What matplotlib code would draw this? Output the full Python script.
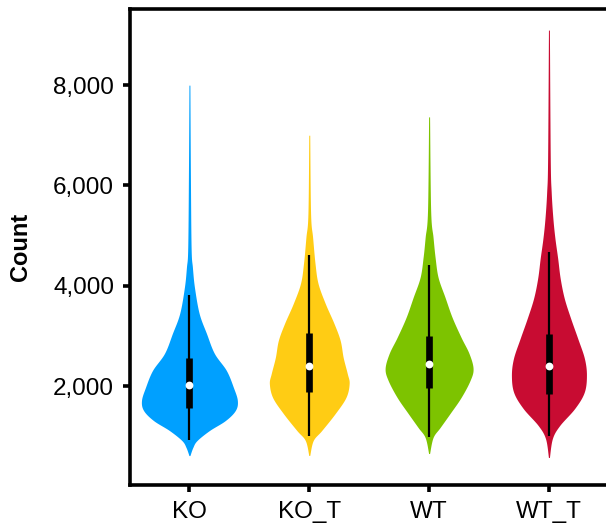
import numpy as np
import matplotlib.pyplot as plt

groups = ["KO", "KO_T", "WT", "WT_T"]
colors = ["#00A0FF", "#FFCC14", "#7DC300", "#C80C32"]

# violin outlines: count level -> half width (category units)
ko_y = [7998, 6300, 4769, 4371, 3972, 3454, 3055, 2657, 2318, 1979, 1720, 1521, 1320, 1121, 921, 782, 622]
ko_w = [0.004, 0.008, 0.014, 0.025, 0.042, 0.081, 0.142, 0.208, 0.308, 0.367, 0.400, 0.383, 0.300, 0.167, 0.063, 0.028, 0.004]
kot_y = [7001, 5447, 4968, 4450, 4052, 3653, 3255, 2916, 2577, 2258, 2059, 1780, 1461, 1122, 922, 624]
kot_w = [0.004, 0.011, 0.028, 0.048, 0.073, 0.133, 0.206, 0.258, 0.283, 0.317, 0.333, 0.306, 0.217, 0.104, 0.033, 0.004]
wt_y = [7366, 5507, 4968, 4570, 4171, 3773, 3374, 2975, 2657, 2358, 2119, 1780, 1461, 1182, 982, 663]
wt_w = [0.004, 0.013, 0.033, 0.050, 0.075, 0.133, 0.192, 0.267, 0.333, 0.367, 0.342, 0.267, 0.175, 0.092, 0.033, 0.004]
wtt_y = [9094, 6543, 5866, 5347, 4949, 4550, 4151, 3753, 3355, 2956, 2557, 2218, 1879, 1560, 1222, 963, 584]
wtt_w = [0.004, 0.011, 0.019, 0.033, 0.050, 0.073, 0.094, 0.128, 0.181, 0.240, 0.296, 0.313, 0.294, 0.215, 0.090, 0.029, 0.004]

# box stats: whisker low, q1, median, q3, whisker high
box_low = [923, 1003, 989, 1009]
box_q1 = [1567, 1886, 1973, 1853]
box_med = [2019, 2411, 2437, 2403]
box_q3 = [2563, 3062, 3009, 3049]
box_high = [3813, 4612, 4410, 4676]

profiles = [(ko_y, ko_w), (kot_y, kot_w), (wt_y, wt_w), (wtt_y, wtt_w)]


def smooth_outline(yy, ww, n=12):
    # catmull-rom through the outline points so the shape isn't jagged
    p = np.column_stack([yy, ww]).astype(float)
    p = np.vstack([p[0], p, p[-1]])
    out = []
    for k in range(1, len(p) - 2):
        p0, p1, p2, p3 = p[k - 1], p[k], p[k + 1], p[k + 2]
        for t in np.linspace(0, 1, n, endpoint=False):
            t2, t3 = t * t, t * t * t
            out.append(0.5 * (2 * p1 + (-p0 + p2) * t + (2 * p0 - 5 * p1 + 4 * p2 - p3) * t2
                              + (-p0 + 3 * p1 - 3 * p2 + p3) * t3))
    out.append(p[-2])
    out = np.array(out)
    return out[:, 0], np.clip(out[:, 1], 0, None)


plt.rcParams["font.family"] = ["Liberation Sans", "DejaVu Sans"]

fig = plt.figure(figsize=(6.06, 5.25), dpi=100)
ax = fig.add_axes([0.2137, 0.0756, 0.791, 0.9078])

for i, (yy, ww) in enumerate(profiles):
    sy, sw = smooth_outline(yy, ww)
    ax.fill_betweenx(sy, i - sw, i + sw, color=colors[i], lw=0, zorder=2)
    ax.plot([i, i], [box_low[i], box_high[i]], color="black", lw=1.6, zorder=3,
            solid_capstyle="butt")
    ax.plot([i, i], [box_q1[i], box_q3[i]], color="black", lw=4.8, zorder=4,
            solid_capstyle="butt")
    ax.plot(i, box_med[i], "o", color="white", ms=5.6, mew=0, zorder=5)

ax.set_xlim(-0.5, 3.5)
ax.set_ylim(30, 9520)
ax.set_xticks(range(len(groups)))
ax.set_xticklabels(groups)
ax.set_yticks([2000, 4000, 6000, 8000])
ax.set_yticklabels(["2,000", "4,000", "6,000", "8,000"])
ax.set_ylabel("Count", fontsize=17, fontweight="bold", labelpad=15)

for s in ax.spines.values():
    s.set_linewidth(2.6)
ax.tick_params(axis="both", width=2.6, length=5, labelsize=17.5, pad=6, color="black")

fig.savefig("out.png", dpi=100)
